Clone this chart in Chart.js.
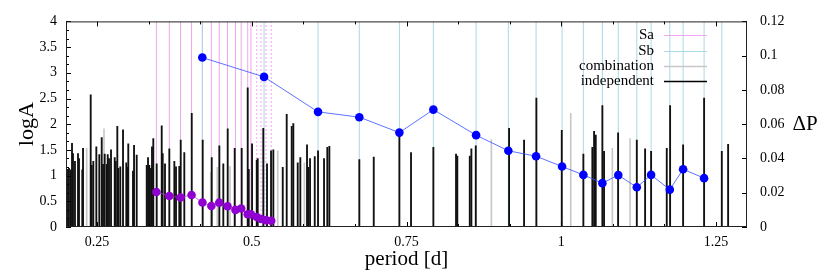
<!DOCTYPE html>
<html>
<head>
<meta charset="utf-8">
<script src="https://cdn.jsdelivr.net/npm/chart.js@4/dist/chart.umd.min.js"></script>
<style>
  html, body { margin: 0; padding: 0; background: #fff; }
  #wrap { width: 830px; height: 277px; }
</style>
</head>
<body>
<div id="wrap"><canvas id="chart"></canvas></div>
<script>
// periods [d] and log amplitudes
const indepPeriod = [
  0.2032, 0.2048, 0.2076, 0.2097, 0.2113, 0.2145, 0.2194, 0.2210, 0.2263, 0.2275,
  0.2399, 0.2415, 0.2441, 0.2490, 0.2538, 0.2577, 0.2598, 0.2625, 0.2658, 0.2674,
  0.2695, 0.2727, 0.2787, 0.2803, 0.2829, 0.2845, 0.2877, 0.2921, 0.2974, 0.2990,
  0.3006, 0.3082, 0.3099, 0.3142, 0.3304, 0.3325, 0.3346, 0.3373, 0.3389, 0.3410,
  0.3465, 0.3546, 0.3562, 0.3599, 0.3669, 0.3750, 0.3777, 0.3830, 0.3853, 0.3911,
  0.4031, 0.4208, 0.4354, 0.4477, 0.4541, 0.4612, 0.4725, 0.4838, 0.4935, 0.4952,
  0.5005, 0.5081, 0.5097, 0.5187, 0.5247, 0.5312, 0.5349, 0.5501, 0.5565, 0.5646,
  0.5672, 0.5743, 0.5785, 0.5893, 0.5914, 0.5942, 0.6018, 0.6071, 0.6168, 0.6221,
  0.6254, 0.6738, 0.6971, 0.7385, 0.7573, 0.7934, 0.8300, 0.8321, 0.8522, 0.8548,
  0.8619, 0.9157, 0.9399, 0.9598, 1.0008, 1.0357, 1.0502, 1.0530, 1.0557, 1.0664,
  1.0691, 1.0918, 1.1220, 1.1354, 1.1451, 1.1704, 1.1758, 1.1968, 1.2307, 1.2593,
  1.2695
];
const indepLogA = [
  1.12, 1.14, 1.11, 1.63, 1.43, 1.28, 1.43, 1.33, 1.11, 1.53,
  2.57, 1.20, 1.28, 1.56, 1.41, 1.74, 1.22, 1.42, 1.22, 1.41,
  1.33, 1.50, 1.35, 1.28, 1.96, 1.14, 1.17, 1.89, 1.25, 1.16,
  1.62, 1.09, 1.59, 1.40, 1.20, 1.35, 1.20, 1.14, 1.56, 1.72,
  1.23, 1.97, 1.43, 1.23, 1.52, 1.28, 1.17, 1.18, 1.69, 1.45,
  2.21, 1.69, 1.35, 1.58, 1.23, 1.91, 1.53, 1.53, 2.71, 1.12,
  1.62, 1.30, 1.33, 1.92, 1.23, 1.48, 1.50, 1.16, 2.19, 1.96,
  2.01, 1.25, 1.35, 1.60, 1.16, 1.33, 1.37, 1.48, 1.33, 1.55,
  1.57, 1.31, 1.36, 1.83, 1.45, 1.55, 1.42, 1.38, 1.38, 1.52,
  1.58, 1.92, 1.69, 2.51, 1.88, 1.42, 1.55, 1.86, 1.79, 2.36,
  1.47, 1.83, 1.69, 1.52, 1.47, 1.53, 2.36, 1.60, 2.51, 1.47,
  1.61
];

const combPeriod = [0.2334, 0.2614, 0.4338, 0.4444, 0.4649, 0.5420, 0.5850, 0.8871, 1.0153, 1.0825, 1.1111];
const combLogA   = [1.53, 1.91, 1.06, 1.16, 1.18, 1.48, 1.25, 1.70, 2.21, 1.53, 1.72];

// Sa sequence: periods and period spacing (right axis)
const saPeriod = [0.3460, 0.3669, 0.3850, 0.4028, 0.4204, 0.4348, 0.4475, 0.4609,
                  0.4737, 0.4830, 0.4935, 0.4987, 0.5081, 0.5150, 0.5230, 0.5315];
const saDeltaP = [0.0204, 0.0181, 0.0172, 0.0187, 0.0143, 0.0123, 0.0142, 0.0121,
                  0.0100, 0.0108, 0.0074, 0.0074, 0.0058, 0.0047, 0.0040, 0.0036];
const saSolidCount = 12; // the rest are drawn dotted

// Sb sequence
const sbPeriod = [0.4202, 0.5199, 0.6071, 0.6738, 0.7385, 0.7934, 0.8624, 0.9145, 0.9593, 1.0013,
                  1.0357, 1.0664, 1.0921, 1.1220, 1.1451, 1.1753, 1.1968, 1.2307, 1.2593];
const sbDeltaP = [0.0989, 0.0876, 0.0672, 0.0641, 0.0551, 0.0685, 0.0536, 0.0445, 0.0413, 0.0353,
                  0.0304, 0.0256, 0.0303, 0.0232, 0.0304, 0.0218, 0.0337, 0.0285];

const xTicks = [0.25, 0.5, 0.75, 1, 1.25];
const X_MIN = 0.2, X_MAX = 1.3;
const LOGA_MAX = 4, DP_MAX = 0.12;

const SERIF = '"Liberation Serif", "DejaVu Serif", serif';
Chart.defaults.font.family = SERIF;
Chart.defaults.font.size = 14;
Chart.defaults.color = '#000';

// full-height marker lines, broken by nulls
const fullLines = periods => periods.flatMap(p => [{x: p, y: 0}, {x: p, y: LOGA_MAX}, {x: p, y: null}]);
const pairs = (xs, ys) => ys.map((y, i) => ({x: xs[i], y: y}));

const SA_COLOR = '#eea6ee';
const SB_COLOR = '#add8e6';

// inward ticks, frame, key and the horizontal right-axis label
const framePlugin = {
  id: 'frame',
  afterDatasetsDraw(chart) {
    const {ctx, chartArea: a, scales} = chart;
    ctx.save();
    ctx.strokeStyle = '#000';
    ctx.lineWidth = 1;
    const line = (x1, y1, x2, y2) => { ctx.beginPath(); ctx.moveTo(x1, y1); ctx.lineTo(x2, y2); ctx.stroke(); };

    const xs = scales.x, ys = scales.y, y2 = scales.y2;
    for (let i = -1; i <= 13; i++) {
      const v = xTicks[0] + i * 0.25 / 3;
      if (v < X_MIN || v > X_MAX) continue;
      const len = i % 3 === 0 ? 5 : 3;
      const px = Math.round(xs.getPixelForValue(v)) + 0.5;
      line(px, a.bottom, px, a.bottom - len);
      line(px, a.top, px, a.top + len);
    }
    for (let i = 0; i <= 24; i++) {
      const v = i * 0.5 / 3;
      const len = i % 3 === 0 ? 5 : 3;
      const py = Math.round(ys.getPixelForValue(v)) + 0.5;
      line(a.left, py, a.left + len, py);
    }
    y2.ticks.forEach(t => {
      const py = Math.round(y2.getPixelForValue(t.value)) + 0.5;
      line(a.right, py, a.right - 5, py);
    });
    ctx.strokeStyle = '#222';
    ctx.strokeRect(a.left + 0.5, a.top + 0.5, a.width - 1, a.height - 1);

    // key
    ctx.font = '15px ' + SERIF;
    ctx.textAlign = 'right';
    ctx.textBaseline = 'middle';
    const keyed = chart.data.datasets.filter(d => d.inKey);
    keyed.forEach((d, i) => {
      const y = a.top + 14 + i * 15.3;
      ctx.fillStyle = '#000';
      ctx.fillText(d.label, a.right - 93, y);
      ctx.strokeStyle = d.keyColor;
      ctx.lineWidth = d.keyWidth;
      line(a.right - 83, Math.round(y) + 0.5, a.right - 40, Math.round(y) + 0.5);
    });

    ctx.font = '21px ' + SERIF;
    ctx.textAlign = 'center';
    ctx.fillStyle = '#000';
    ctx.fillText('\u0394P', 805, (a.top + a.bottom) / 2);
    ctx.restore();
  }
};

new Chart(document.getElementById('chart'), {
  type: 'bar',
  data: {
    datasets: [
      {
        type: 'line', label: 'Sa', inKey: true, keyColor: SA_COLOR, keyWidth: 1,
        data: fullLines(saPeriod.slice(0, saSolidCount)),
        borderColor: SA_COLOR, borderWidth: 1, pointRadius: 0, spanGaps: false, order: 6
      },
      {
        type: 'line', label: 'Sa dotted',
        data: fullLines(saPeriod.slice(saSolidCount)),
        borderColor: SA_COLOR, borderWidth: 1, borderDash: [2, 2], pointRadius: 0, spanGaps: false, order: 6
      },
      {
        type: 'line', label: 'Sb', inKey: true, keyColor: SB_COLOR, keyWidth: 1,
        data: fullLines(sbPeriod),
        borderColor: SB_COLOR, borderWidth: 1, pointRadius: 0, spanGaps: false, order: 5
      },
      {
        label: 'combination', inKey: true, keyColor: '#c8c8c8', keyWidth: 1.5,
        data: pairs(combPeriod, combLogA),
        backgroundColor: '#c8c8c8', borderWidth: 0, barThickness: 1, grouped: false, order: 4
      },
      {
        label: 'independent', inKey: true, keyColor: '#000', keyWidth: 1.5,
        data: pairs(indepPeriod, indepLogA),
        backgroundColor: '#111', borderWidth: 0, barThickness: 1.2, grouped: false, order: 3
      },
      {
        type: 'line', label: 'Sa \u0394P', yAxisID: 'y2',
        data: pairs(saPeriod, saDeltaP),
        borderColor: 'rgba(170, 70, 220, 0.7)', borderWidth: 1,
        pointRadius: 4.3, pointBackgroundColor: '#9000d0', pointBorderWidth: 0, order: 2
      },
      {
        type: 'line', label: 'Sb \u0394P', yAxisID: 'y2',
        data: pairs(sbPeriod, sbDeltaP),
        borderColor: 'rgba(50, 80, 255, 0.8)', borderWidth: 1,
        pointRadius: 4.3, pointBackgroundColor: '#0000ff', pointBorderWidth: 0, order: 1
      }
    ]
  },
  options: {
    responsive: true,
    maintainAspectRatio: false,
    animation: false,
    layout: { padding: { top: 15, right: 0, bottom: 0, left: 0 } },
    scales: {
      x: {
        type: 'linear', min: X_MIN, max: X_MAX, offset: false,
        grid: { display: false, drawTicks: false }, border: { display: false },
        afterBuildTicks: s => { s.ticks = xTicks.map(v => ({ value: v })); },
        ticks: { padding: 7, maxRotation: 0, autoSkip: false, callback: v => String(v) },
        title: { display: true, text: 'period [d]', font: { size: 21 }, padding: { top: 0, bottom: 5 } },
        afterFit: s => { s.height = 50; }
      },
      y: {
        position: 'left', min: 0, max: LOGA_MAX,
        grid: { display: false, drawTicks: false }, border: { display: false },
        ticks: { stepSize: 0.5, padding: 9, callback: v => String(v) },
        title: { display: true, text: 'logA', font: { size: 22 }, padding: { top: 14, bottom: 0 } },
        afterFit: s => { s.width = 66; }
      },
      y2: {
        position: 'right', min: 0, max: DP_MAX,
        grid: { display: false, drawTicks: false }, border: { display: false },
        ticks: { stepSize: 0.02, padding: 13, callback: v => String(+v.toFixed(2)) },
        afterFit: s => { s.width = 83; }
      }
    },
    plugins: {
      legend: { display: false },
      tooltip: { enabled: false }
    }
  },
  plugins: [framePlugin]
});
</script>
</body>
</html>
